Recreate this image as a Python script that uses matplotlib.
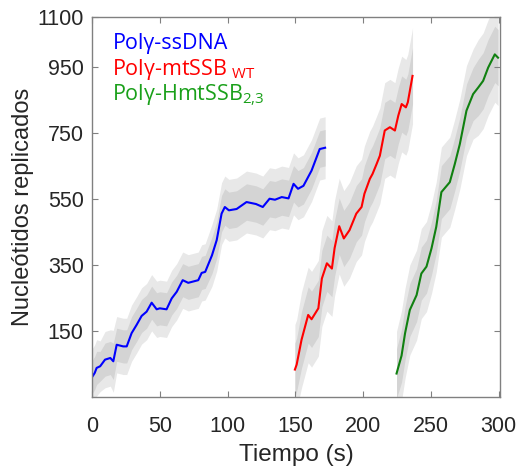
import numpy as np
import matplotlib.pyplot as plt

# Smoothed traces (time in s, nucleotides)
t_blue = [0, 2, 3.4, 6, 9.6, 13.5, 15.7, 18.2, 23, 25.6, 29.2, 32.9, 36.6, 40.3,
          44, 47.7, 50, 55, 58.8, 62.5, 66.9, 71, 78.4, 80.9, 83.5, 88.5, 92,
          95.6, 98, 101, 106.7, 114, 121, 126, 131, 135, 140, 145, 148.7, 152,
          156, 162, 168, 172]
v_blue = [12, 25, 40, 45, 65, 70, 60, 110, 105, 105, 145, 170, 197, 210,
          237, 217, 220, 217, 250, 270, 305, 297, 305, 327, 330, 380, 426,
          506, 526, 516, 520, 541, 535, 526, 551, 548, 556, 552, 596, 581,
          590, 636, 701, 705]
# half-width of the raw-data cloud around each point
s_blue = [50, 50, 50, 45, 50, 50, 55, 50, 50, 50, 50, 50, 50, 50,
          50, 50, 50, 50, 50, 50, 50, 50, 50, 50, 50, 55, 55,
          55, 55, 55, 55, 55, 55, 55, 55, 55, 55, 55, 55, 55,
          55, 55, 55, 55]

t_red = [149.7, 151, 154.6, 159.5, 162, 167, 169.6, 173.3, 177, 179, 182.4,
         185.8, 190, 195, 198.9, 201, 205, 207, 210, 212.4, 216, 219.8, 223.5,
         226, 228.5, 231.6, 233, 236.5]
v_red = [35, 50, 125, 200, 187, 220, 310, 356, 340, 402, 468,
         431, 456, 506, 526, 566, 611, 626, 656, 681, 757, 767, 757,
         802, 837, 827, 842, 922]
s_red = [80, 80, 85, 85, 85, 85, 85, 85, 85, 85, 85,
         85, 85, 85, 85, 85, 85, 85, 85, 85, 85, 85, 85,
         85, 85, 85, 85, 85]

t_green = [224.7, 228.4, 231, 234.5, 239.5, 243, 246.8, 250.5, 254, 257.8,
           264, 267.7, 271.4, 276.3, 281.2, 285, 288.6, 292.3, 297.2, 299.6]
v_green = [23, 77, 145, 215, 260, 325, 346, 401, 466, 571,
           601, 656, 716, 817, 867, 887, 907, 947, 987, 977]
s_green = [75, 80, 80, 80, 80, 80, 80, 80, 80, 80,
           80, 80, 80, 80, 80, 85, 85, 85, 85, 85]

x_ticks = [0, 50, 100, 150, 200, 250, 300]
y_ticks = [150, 350, 550, 750, 950, 1100]

labels = ['Polγ-ssDNA', 'Polγ-mtSSB$_{\\mathregular{\\ WT}}$',
          'Polγ-HmtSSB$_{\\mathregular{2{,}3}}$']
line_colors = ['#0000ff', '#ff0000', '#108010']
text_colors = ['#0000ff', '#ff0000', '#1aa01a']

fig = plt.figure(figsize=(5.17, 4.71), dpi=100)
ax = fig.add_axes([0.178, 0.157, 0.789, 0.807])

series = [(t_blue, v_blue, s_blue), (t_red, v_red, s_red),
          (t_green, v_green, s_green)]
for (t, v, s), c in zip(series, line_colors):
    t = np.array(t)
    v = np.array(v)
    s = np.array(s)
    # raw data cloud (spikes + dense core)
    ax.fill_between(t, v - 1.7 * s, v + 1.7 * s, color='#e8e8e8', lw=0)
    ax.fill_between(t, v - s, v + s, color='#d4d4d4', lw=0)
    ax.plot(t, v, color=c, lw=1.5)

ax.set_xlim(0, 301)
ax.set_ylim(-48, 1100)
ax.set_xticks(x_ticks)
ax.set_yticks(y_ticks)
ax.tick_params(direction='in', top=True, right=True, length=4,
               color='#808080', labelsize=15.5, labelcolor='#262626')
ax.tick_params(axis='x', pad=14)
ax.tick_params(axis='y', pad=6)
for lbl in ax.get_xticklabels() + ax.get_yticklabels():
    lbl.set_family('Liberation Sans')
for sp in ax.spines.values():
    sp.set_color('#808080')
    sp.set_linewidth(1)

ax.set_xlabel('Tiempo (s)', fontsize=17.5, family='Liberation Sans',
              color='#262626', labelpad=5)
ax.set_ylabel('Nucleótidos replicados', fontsize=17, family='Liberation Sans',
              color='#262626', labelpad=2.5)

for i, (lab, c) in enumerate(zip(labels, text_colors)):
    ax.text(0.05, 0.93 - i * 0.068, lab, transform=ax.transAxes,
            color=c, fontsize=15.5, family='Open Sans', va='center')

fig.savefig('out.png', dpi=100)
